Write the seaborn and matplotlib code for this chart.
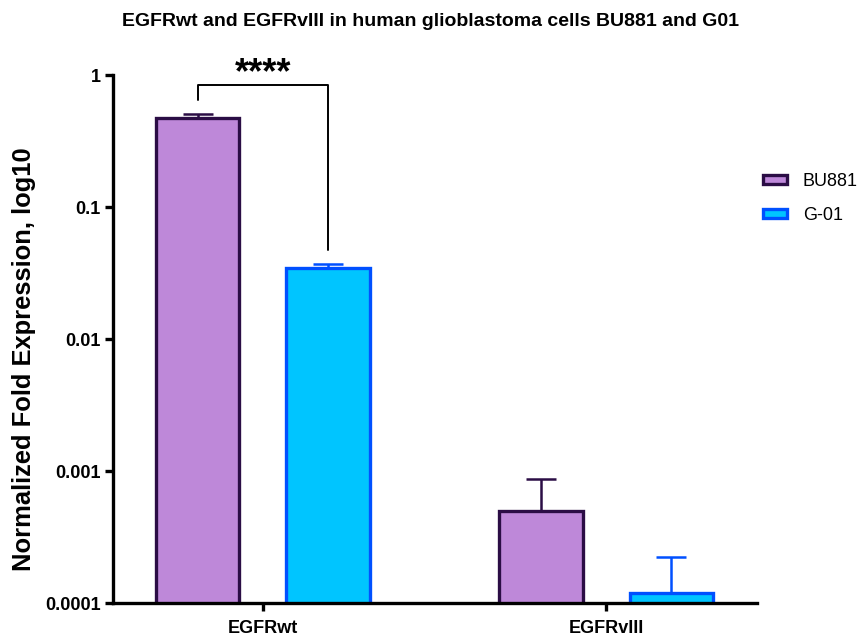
import numpy as np
import pandas as pd
import matplotlib
matplotlib.use("Agg")
import matplotlib.pyplot as plt
import seaborn as sns
from matplotlib.ticker import FixedLocator, FixedFormatter, NullLocator
from matplotlib.patches import Patch

categories = ["EGFRwt", "EGFRvIII"]
cell_lines = ["BU881", "G-01"]
bu881_mean = [0.47, 0.000495]
bu881_err = [0.035, 0.00037]
g01_mean = [0.0345, 0.000119]
g01_err = [0.0025, 0.000105]
ytick_vals = [0.0001, 0.001, 0.01, 0.1, 1]
ytick_labels = ["0.0001", "0.001", "0.01", "0.1", "1"]
title = "EGFRwt and EGFRvIII in human glioblastoma cells BU881 and G01"
ylabel = "Normalized Fold Expression, log10"
sig_label = "****"

fills = {"BU881": "#BE88D9", "G-01": "#00C5FF"}
edges = {"BU881": "#2B0D45", "G-01": "#0050FF"}

df = pd.DataFrame({
    "category": categories * 2,
    "line": ["BU881"] * 2 + ["G-01"] * 2,
    "value": bu881_mean + g01_mean,
    "err": bu881_err + g01_err,
})

sns.set_theme(style="ticks")
plt.rcParams["font.family"] = ["Liberation Sans", "DejaVu Sans"]
for k in ["text.color", "axes.labelcolor", "xtick.color", "ytick.color"]:
    plt.rcParams[k] = "black"

fig = plt.figure(figsize=(8.61, 6.36), dpi=100)
ax = fig.add_axes([113 / 861, 1 - 603 / 636, (757 - 113) / 861, (603 - 75) / 636])

sns.barplot(data=df, x="category", y="value", hue="line", order=categories,
            hue_order=cell_lines, palette=fills, width=0.76, gap=0.36,
            errorbar=None, ax=ax, linewidth=2.4, legend=False)
ax.set_yscale("log")

for cont, line in zip(ax.containers, cell_lines):
    sub = df[df["line"] == line].set_index("category").loc[categories]
    xs = []
    for patch in cont.patches:
        patch.set_edgecolor(edges[line])
        patch.set_facecolor(fills[line])
        patch.set_linewidth(2.4)
        xs.append(patch.get_x() + patch.get_width() / 2)
    ax.errorbar(xs, sub["value"].values,
                yerr=[np.zeros(len(xs)), sub["err"].values],
                fmt="none", ecolor=edges[line], elinewidth=1.8,
                capsize=11, capthick=1.8, zorder=1)

ax.set_ylim(1e-4, 1)
ax.set_xlim(-0.437, 1.44)
ax.yaxis.set_major_locator(FixedLocator(ytick_vals))
ax.yaxis.set_major_formatter(FixedFormatter(ytick_labels))
ax.yaxis.set_minor_locator(NullLocator())

for s in ["top", "right"]:
    ax.spines[s].set_visible(False)
for s in ["left", "bottom"]:
    ax.spines[s].set_linewidth(2.4)
    ax.spines[s].set_color("black")
ax.tick_params(axis="both", length=6, width=2.4, color="black", labelsize=13)
ax.tick_params(axis="y", pad=3)
ax.tick_params(axis="x", pad=6)
for lab in ax.get_xticklabels() + ax.get_yticklabels():
    lab.set_fontweight("bold")

ax.set_xlabel("")
ax.set_ylabel("")
fig.text(24 / 861, 1 - 359 / 636, ylabel, rotation=90, ha="center",
         va="center", fontsize=18.4, fontweight="bold")

# significance bracket
p0 = ax.containers[0].patches[0]
p1 = ax.containers[1].patches[0]
x0 = p0.get_x() + p0.get_width() / 2
x1 = p1.get_x() + p1.get_width() / 2
ax.plot([x0, x0, x1, x1], [0.646, 0.84, 0.84, 0.047], color="black",
        lw=1.4, clip_on=False, zorder=3)
ax.text((x0 + x1) / 2, 0.87, sig_label, ha="center", va="baseline",
        fontsize=26, fontweight="bold", clip_on=False)

fig.suptitle(title, x=0.5, y=1 - 22 / 636, fontsize=14, fontweight="bold",
             va="center")

handles = [Patch(facecolor=fills[l], edgecolor=edges[l], linewidth=2.4, label=l)
           for l in cell_lines]
fig.legend(handles=handles, loc="upper left",
           bbox_to_anchor=(747 / 861, 1 - 157 / 636), frameon=False,
           fontsize=13, handlelength=1.3, handleheight=0.4,
           labelspacing=0.93, handletextpad=0.9)

fig.savefig("out.png", dpi=100)
